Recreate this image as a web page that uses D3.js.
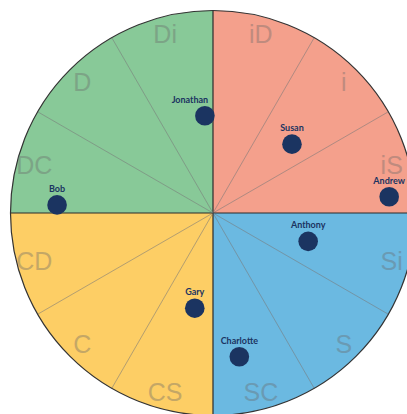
<!DOCTYPE html>
<html>
<head>
<meta charset="utf-8">
<script src="https://cdn.jsdelivr.net/npm/d3@7"></script>
<style>
  body { margin: 0; background: #fff; }
  svg { display: block; }
</style>
</head>
<body>
<svg id="chart" width="407" height="414"></svg>
<script>
// sector styles, clockwise from 12 o'clock
const styles = ["iD", "i", "iS", "Si", "S", "SC", "CS", "C", "CD", "DC", "D", "Di"];
// quadrant colours: top-right, bottom-right, bottom-left, top-left
const quadrantColors = ["#f4a08c", "#6bb9e1", "#fdce65", "#88c998"];
// people, scores on a -100..100 grid (x: right, y: up)
const names = ["Jonathan", "Susan", "Andrew", "Bob", "Anthony", "Gary", "Charlotte"];
const xScores = [-4, 39, 87, -77, 47, -9, 13];
const yScores = [48, 34, 8, 4, -14, -47, -71];

let chart = d3.select("#chart");
let cx = 213, cy = 213, R = 202.5;

let x = d3.scaleLinear().domain([-100, 100]).range([cx - R, cx + R]);
let y = d3.scaleLinear().domain([-100, 100]).range([cy + R, cy - R]);
let angle = d3.scaleBand().domain(styles).range([0, 2 * Math.PI]);

let g = chart.append("g").attr("transform", "translate(" + cx + "," + cy + ")");

// quadrants
let arc = d3.arc().innerRadius(0).outerRadius(R);
g.selectAll("path.quad")
  .data(quadrantColors)
  .enter()
  .append("path")
    .attr("class", "quad")
    .attr("d", (d, i) => arc({startAngle: i * Math.PI / 2, endAngle: (i + 1) * Math.PI / 2}))
    .style("fill", d => d);

// sector lines (quadrant borders darker)
g.selectAll("line.sector")
  .data(styles)
  .enter()
  .append("line")
    .attr("class", "sector")
    .attr("x1", 0).attr("y1", 0)
    .attr("x2", d => R * Math.sin(angle(d)))
    .attr("y2", d => -R * Math.cos(angle(d)))
    .style("stroke", (d, i) => i % 3 == 0 ? "#2b2b2b" : "#7a7a7a")
    .style("stroke-width", (d, i) => i % 3 == 0 ? 1.2 : 0.7)
    .style("opacity", (d, i) => i % 3 == 0 ? 1 : 0.8);

// outline
g.append("circle")
  .attr("r", R)
  .style("fill", "none")
  .style("stroke", "#333")
  .style("stroke-width", 1.2);

// sector labels
g.selectAll("text.style")
  .data(styles)
  .enter()
  .append("text")
    .attr("class", "style")
    .text(d => d)
    .attr("x", d => 185 * Math.sin(angle(d) + angle.bandwidth() / 2))
    .attr("y", d => -185 * Math.cos(angle(d) + angle.bandwidth() / 2))
    .attr("dy", "0.36em")
    .style("text-anchor", "middle")
    .style("font-family", "'Liberation Sans', Arial, sans-serif")
    .style("font-size", "25px")
    .style("fill", "#6a6a6a")
    .style("opacity", 0.38);

// people
let people = names.map((n, i) => ({name: n, sx: xScores[i], sy: yScores[i]}));
let labelShift = {Jonathan: -15};

chart.selectAll("circle.person")
  .data(people)
  .enter()
  .append("circle")
    .attr("class", "person")
    .attr("cx", d => x(d.sx))
    .attr("cy", d => y(d.sy))
    .attr("r", 9.8)
    .style("fill", "#1b3461");

chart.selectAll("text.person")
  .data(people)
  .enter()
  .append("text")
    .attr("class", "person")
    .text(d => d.name)
    .attr("x", d => x(d.sx) + (labelShift[d.name] || 0))
    .attr("y", d => y(d.sy) - 13)
    .style("text-anchor", "middle")
    .style("font-family", "Lato, 'Open Sans', sans-serif")
    .style("font-weight", "bold")
    .style("font-size", "9px")
    .style("fill", "#1b3461");
</script>
</body>
</html>
